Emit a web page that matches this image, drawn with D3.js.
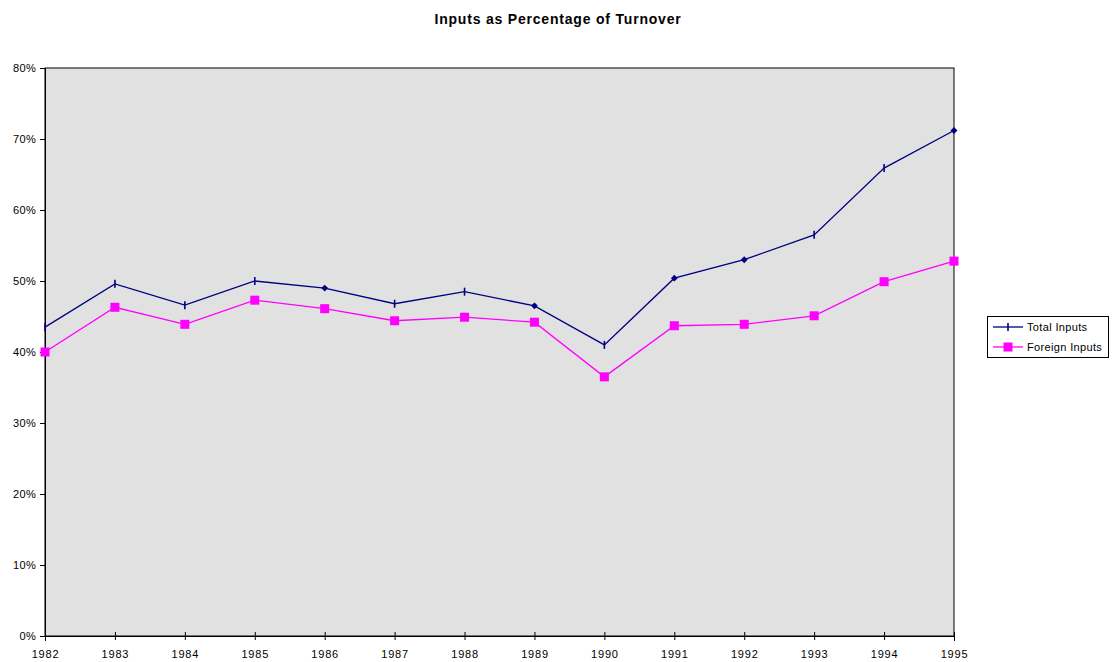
<!DOCTYPE html>
<html><head><meta charset="utf-8">
<script src="https://cdn.jsdelivr.net/npm/d3@7"></script>
<style>body{margin:0;background:#fff}svg{display:block;font-family:"Liberation Sans",Arial,sans-serif}</style>
</head><body><svg id="c" width="1113" height="662"></svg>
<script>
const years = ["1982","1983","1984","1985","1986","1987","1988","1989","1990","1991","1992","1993","1994","1995"];
const totalInputs = [43.5,49.6,46.6,50.0,49.0,46.8,48.5,46.5,41.0,50.4,53.0,56.5,65.9,71.2];
const foreignInputs = [40.0,46.3,43.9,47.3,46.1,44.4,44.9,44.2,36.5,43.7,43.9,45.1,49.9,52.8];
const totalDiamondYears = ["1986","1989","1991","1992","1995"];
const yTicks = [0,10,20,30,40,50,60,70,80];

const svg = d3.select("#c");
const L=45,R=954,T=68,B=636;
const x = d3.scalePoint().domain(years).range([L,R]);
const y = d3.scaleLinear().domain([0,80]).range([B,T]);

svg.append("text").attr("x",558).attr("y",24).attr("text-anchor","middle")
  .attr("font-weight","bold").attr("font-size",14).attr("letter-spacing",0.8).text("Inputs as Percentage of Turnover");

svg.append("rect").attr("x",L).attr("y",T).attr("width",R-L).attr("height",B-T)
  .attr("fill","#e1e1e1").attr("stroke","#000").attr("stroke-width",1);

const ya = svg.append("g").attr("transform",`translate(${L},0)`)
  .call(d3.axisLeft(y).tickValues(yTicks).tickFormat(d=>d+"%").tickSize(5).tickPadding(4));
ya.select(".domain").attr("stroke","#000");
ya.selectAll("text").attr("font-size",11).attr("fill","#000").attr("letter-spacing",0.3).style("font-family","Liberation Sans, Arial, sans-serif");

const xa = svg.append("g").attr("transform",`translate(0,${B})`)
  .call(d3.axisBottom(x).tickSize(5).tickPadding(9));
xa.selectAll(".tick line").attr("y1",-4).attr("y2",4);
xa.select(".domain").attr("stroke","#000");
xa.selectAll("text").attr("font-size",11).attr("fill","#000").attr("letter-spacing",0.8).style("font-family","Liberation Sans, Arial, sans-serif");

const line = d3.line().x((d,i)=>x(years[i])).y(d=>y(d));
svg.append("path").datum(totalInputs).attr("d",line).attr("fill","none").attr("stroke","#000080").attr("stroke-width",1.3);
svg.append("path").datum(foreignInputs).attr("d",line).attr("fill","none").attr("stroke","#ff00ff").attr("stroke-width",1.3);

// Total markers
totalInputs.forEach((v,i)=>{
  const cx=x(years[i]), cy=y(v);
  if(totalDiamondYears.includes(years[i])){
    svg.append("path").attr("d",d3.symbol(d3.symbolDiamond2,30)()).attr("transform",`translate(${cx},${cy})`).attr("fill","#000080");
  } else {
    svg.append("line").attr("x1",cx).attr("x2",cx).attr("y1",cy-4).attr("y2",cy+4).attr("stroke","#000080").attr("stroke-width",1.6);
  }
});
// Foreign markers
svg.selectAll(".fm").data(foreignInputs).enter().append("rect")
  .attr("x",(d,i)=>x(years[i])-4.5).attr("y",d=>y(d)-4.5).attr("width",9).attr("height",9).attr("fill","#ff00ff");

// Legend
const lg = svg.append("g");
lg.append("rect").attr("x",987.5).attr("y",316.5).attr("width",121).attr("height",41).attr("fill","#fff").attr("stroke","#000");
lg.append("line").attr("x1",993).attr("x2",1023).attr("y1",327).attr("y2",327).attr("stroke","#000080").attr("stroke-width",1.3);
lg.append("line").attr("x1",1008).attr("x2",1008).attr("y1",323).attr("y2",331).attr("stroke","#000080").attr("stroke-width",1.6);
lg.append("text").attr("x",1027).attr("y",331).attr("font-size",11).attr("letter-spacing",0.35).text("Total Inputs");
lg.append("line").attr("x1",993).attr("x2",1023).attr("y1",347).attr("y2",347).attr("stroke","#ff00ff").attr("stroke-width",1.3);
lg.append("rect").attr("x",1003.5).attr("y",342.5).attr("width",9).attr("height",9).attr("fill","#ff00ff");
lg.append("text").attr("x",1027).attr("y",351).attr("font-size",11).attr("letter-spacing",0.35).text("Foreign Inputs");
</script></body></html>
